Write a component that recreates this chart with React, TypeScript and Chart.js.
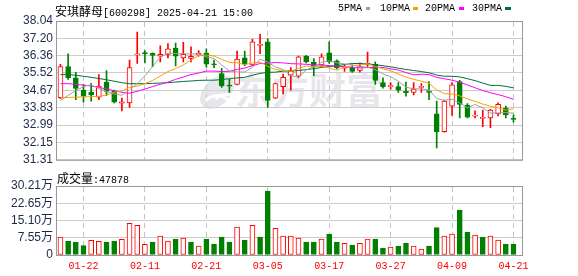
import React, { useEffect, useRef } from 'react';
import { Chart, registerables } from 'chart.js';

Chart.register(...registerables);

const dates = ['01-17','01-20','01-21','01-22','01-23','01-24','01-27','02-05','02-06','02-07','02-10','02-11','02-12','02-13','02-14','02-17','02-18','02-19','02-20','02-21','02-24','02-25','02-26','02-27','02-28','03-03','03-04','03-05','03-06','03-07','03-10','03-11','03-12','03-13','03-14','03-17','03-18','03-19','03-20','03-21','03-24','03-25','03-26','03-27','03-28','03-31','04-01','04-02','04-03','04-07','04-08','04-09','04-10','04-11','04-14','04-15','04-16','04-17','04-18','04-21'];

const xTickLabels = ['01-22','02-11','02-21','03-05','03-17','03-27','04-09','04-21'];

const openP = [34.32,35.83,35.28,34.69,34.58,34.35,35.08,34.66,34.06,34.07,36.40,36.48,36.47,36.34,36.42,36.73,36.25,36.23,36.40,36.48,35.95,35.49,34.91,34.97,36.26,35.91,36.86,37.03,34.30,34.85,35.41,35.36,36.33,36.03,35.91,36.50,36.11,35.75,35.75,35.64,35.94,35.94,35.05,34.86,34.86,34.63,34.58,34.82,34.66,33.54,32.68,33.91,35.10,33.96,33.43,33.32,33.34,33.54,33.80,33.30];
const closeP = [35.83,35.28,34.77,34.39,34.46,34.89,34.63,34.10,34.12,35.78,36.44,36.46,36.37,36.42,36.69,36.34,36.42,36.33,36.47,35.95,35.92,34.89,34.88,36.19,35.95,37.03,36.90,34.19,35.00,35.31,35.64,36.30,36.06,35.83,36.30,36.06,35.78,35.83,35.59,35.83,35.98,35.16,34.86,34.89,34.69,34.57,34.74,34.85,34.58,32.67,34.16,34.94,34.00,33.38,33.46,33.35,33.72,34.00,33.49,33.27];
const highP = [35.94,36.45,35.55,34.97,35.02,35.44,35.63,34.69,34.30,36.14,37.50,36.61,36.50,36.84,36.95,36.97,37.00,36.79,36.61,36.69,36.14,35.75,35.21,36.58,36.58,37.15,37.39,37.18,35.03,35.47,35.78,36.34,36.37,36.22,36.45,37.03,36.16,35.94,35.91,36.01,36.53,36.06,35.28,35.05,35.05,35.08,35.05,35.00,35.10,34.16,34.19,35.05,35.16,34.04,33.68,33.72,33.76,34.07,33.91,33.49];
const lowP = [34.27,35.21,34.22,34.11,34.15,34.22,34.43,34.07,33.68,33.85,35.98,36.01,35.83,36.06,36.25,35.86,36.06,36.06,36.34,35.80,35.78,34.82,34.58,34.94,35.88,35.88,36.45,33.85,34.27,34.50,34.69,35.28,36.01,35.39,35.83,35.98,35.72,35.59,35.55,35.56,35.78,34.97,34.78,34.74,34.58,34.40,34.46,34.58,34.22,31.89,32.65,33.46,33.34,33.34,33.34,32.92,32.87,33.44,33.34,33.13];

const ma5 = [34.19,34.43,34.66,34.86,34.95,34.76,34.63,34.50,34.44,34.70,35.01,35.38,35.83,36.29,36.48,36.46,36.45,36.44,36.45,36.30,36.22,35.91,35.62,35.57,35.57,35.79,36.19,36.05,35.81,35.69,35.41,35.29,35.66,35.83,36.03,36.11,36.01,35.96,35.91,35.82,35.80,35.68,35.48,35.34,35.12,34.83,34.75,34.75,34.69,34.28,34.20,34.24,34.07,33.83,33.99,33.83,33.58,33.58,33.60,33.57];
const ma10 = [34.32,34.33,34.35,34.36,34.37,34.39,34.45,34.58,34.64,34.82,34.89,35.00,35.16,35.37,35.59,35.73,35.91,36.14,36.37,36.39,36.34,36.18,36.03,36.01,35.93,36.00,36.05,35.84,35.69,35.63,35.60,35.74,35.86,35.82,35.86,35.76,35.65,35.81,35.87,35.92,35.96,35.84,35.72,35.63,35.47,35.32,35.21,35.12,35.02,34.70,34.52,34.50,34.41,34.26,34.14,34.01,33.91,33.83,33.72,33.78];
const ma20 = [35.00,35.00,34.97,34.93,34.89,34.82,34.74,34.66,34.58,34.54,34.63,34.74,34.86,34.97,35.08,35.21,35.33,35.44,35.52,35.61,35.61,35.59,35.60,35.69,35.76,35.87,35.98,35.99,36.03,36.01,35.97,35.96,35.94,35.91,35.90,35.88,35.85,35.82,35.78,35.77,35.78,35.79,35.79,35.72,35.66,35.54,35.43,35.46,35.44,35.31,35.24,35.17,35.07,34.94,34.80,34.67,34.56,34.47,34.37,34.24];
const ma30 = [35.44,35.44,35.41,35.36,35.31,35.25,35.19,35.12,35.05,35.00,35.00,35.00,35.02,35.03,35.05,35.08,35.11,35.13,35.16,35.17,35.17,35.20,35.24,35.28,35.31,35.41,35.50,35.55,35.56,35.61,35.61,35.64,35.68,35.73,35.79,35.83,35.87,35.93,35.98,35.98,35.96,35.92,35.87,35.82,35.75,35.69,35.64,35.59,35.53,35.42,35.36,35.36,35.33,35.24,35.15,35.03,34.92,34.92,34.87,34.80];

const volume = [78800,61300,56900,40700,64200,60000,56900,61300,68600,138700,130000,46700,56900,83200,61300,70000,74400,56900,39400,70000,48200,78800,56900,122600,65700,130000,78800,280200,116900,83200,83200,74400,56900,56900,70000,91900,56900,51100,43800,51100,70000,70000,30600,35000,39400,52500,39400,26300,39400,119700,83200,91900,197000,100700,87600,78800,83200,65700,48200,47878];

const priceTicks = [31.31,32.15,32.99,33.83,34.67,35.52,36.36,37.20,38.04];
const volTicks = [0,75525,151050,226575,302100];
const volTickLabels = ['0','7.55万','15.10万','22.65万','30.21万'];

const UP = '#ff0000';
const DOWN = '#008000';
const GRID = '#cccccc';
const VGRID = '#c4c4c4';
const FRAME = '#999999';
const TICK_TEXT = '#1c2a48';
const WM = 'rgba(214,214,222,0.6)';

const tickIdx = xTickLabels.map((d) => dates.indexOf(d));

const framePlugin = {
  id: 'frame',
  afterDraw(chart: any) {
    const { ctx, chartArea: a } = chart;
    ctx.save();
    ctx.strokeStyle = FRAME;
    ctx.lineWidth = 1;
    ctx.setLineDash([]);
    ctx.strokeRect(a.left + 0.5, a.top + 0.5, a.right - a.left - 1, a.bottom - a.top);
    ctx.restore();
  },
};

const vGridPlugin = {
  id: 'vgrid',
  beforeDatasetsDraw(chart: any) {
    const { ctx, chartArea: a, scales } = chart;
    const xs = scales.x;
    ctx.save();
    ctx.strokeStyle = VGRID;
    ctx.lineWidth = 1;
    ctx.setLineDash([5, 4]);
    tickIdx.forEach((v) => {
      const px = Math.floor(xs.getPixelForValue(v)) + 0.5;
      ctx.beginPath();
      ctx.moveTo(px, a.top + 1);
      ctx.lineTo(px, a.bottom);
      ctx.stroke();
    });
    ctx.restore();
  },
};

const watermarkPlugin = {
  id: 'watermark',
  beforeDatasetsDraw(chart: any) {
    const { ctx } = chart;
    ctx.save();
    // logo emblem
    ctx.translate(217, 92);
    ctx.rotate(-Math.PI / 4);
    ctx.fillStyle = WM;
    ctx.beginPath();
    ctx.ellipse(0, 0, 20, 13, 0, 0, Math.PI * 2);
    ctx.fill();
    ctx.strokeStyle = '#ffffff';
    ctx.lineWidth = 3;
    ctx.beginPath();
    ctx.arc(-14, 14, 16, -Math.PI / 2, 0);
    ctx.stroke();
    ctx.beginPath();
    ctx.arc(-6, 20, 16, -Math.PI / 2, 0);
    ctx.stroke();
    ctx.restore();

    ctx.save();
    ctx.fillStyle = WM;
    ctx.font = 'bold 37px "Noto Sans CJK SC"';
    ctx.textAlign = 'center';
    ctx.textBaseline = 'middle';
    ctx.fillText('东方财富', 309, 91);
    ctx.restore();
  },
};

function xAxis(showLabels: boolean) {
  return {
    type: 'linear',
    min: -0.58,
    max: 60.24,
    offset: false,
    afterBuildTicks: (s: any) => {
      s.ticks = tickIdx.map((v) => ({ value: v }));
    },
    grid: { display: false, drawTicks: false, offset: false },
    border: { display: false },
    ticks: {
      display: showLabels,
      autoSkip: false,
      maxRotation: 0,
      padding: 5,
      color: '#ff0000',
      font: { family: '"Liberation Mono", monospace', size: 10 },
      callback: (v: any) => dates[v] ?? '',
    },
    afterFit: (s: any) => {
      s.height = showLabels ? 21 : 0;
    },
  };
}

export default function App() {
  const priceRef = useRef<HTMLCanvasElement>(null);
  const volRef = useRef<HTMLCanvasElement>(null);

  useEffect(() => {
    const idx = dates.map((_, i) => i);
    const isUp = idx.map((i) => closeP[i] >= openP[i]);
    const candleColor = idx.map((i) => (isUp[i] ? UP : DOWN));

    const priceChart = new Chart(priceRef.current as HTMLCanvasElement, {
      type: 'bar',
      data: {
        datasets: [
          {
            type: 'line',
            data: idx.map((i) => ({ x: i, y: ma5[i] })),
            borderColor: '#a0a0a0',
            borderWidth: 1,
            pointRadius: 0,
            order: 0,
          },
          {
            type: 'line',
            data: idx.map((i) => ({ x: i, y: ma10[i] })),
            borderColor: '#f5a200',
            borderWidth: 1,
            pointRadius: 0,
            order: 0,
          },
          {
            type: 'line',
            data: idx.map((i) => ({ x: i, y: ma20[i] })),
            borderColor: '#ff00ff',
            borderWidth: 1,
            pointRadius: 0,
            order: 0,
          },
          {
            type: 'line',
            data: idx.map((i) => ({ x: i, y: ma30[i] })),
            borderColor: '#00703a',
            borderWidth: 1,
            pointRadius: 0,
            order: 0,
          },
          {
            type: 'bar',
            data: idx.map((i) => ({ x: i, y: [openP[i], closeP[i]] })),
            backgroundColor: idx.map((i) => (isUp[i] ? '#ffffff' : DOWN)),
            borderColor: candleColor,
            borderWidth: 1,
            borderSkipped: false,
            barThickness: 5,
            minBarLength: 1,
            grouped: false,
            order: 1,
          },
          {
            type: 'bar',
            data: idx.map((i) => ({ x: i, y: [lowP[i], highP[i]] })),
            backgroundColor: candleColor,
            borderWidth: 0,
            barThickness: 1,
            grouped: false,
            order: 2,
          },
        ] as any,
      },
      options: {
        animation: false,
        responsive: false,
        events: [],
        layout: { padding: { left: 0, right: 55, top: 21, bottom: 5 } },
        plugins: { legend: { display: false }, tooltip: { enabled: false } },
        scales: {
          x: xAxis(false) as any,
          y: {
            min: 31.31,
            max: 38.04,
            afterBuildTicks: (s: any) => {
              s.ticks = priceTicks.map((v) => ({ value: v }));
            },
            grid: { color: GRID, lineWidth: 1, drawTicks: false },
            border: { display: false },
            ticks: {
              padding: 3,
              autoSkip: false,
              color: TICK_TEXT,
              font: { family: '"Liberation Sans", Arial', size: 12 },
              callback: (v: any) => Number(v).toFixed(2),
            },
            afterFit: (s: any) => {
              s.width = 56;
            },
          },
        },
      },
      plugins: [vGridPlugin, watermarkPlugin, framePlugin],
    });

    const volChart = new Chart(volRef.current as HTMLCanvasElement, {
      type: 'bar',
      data: {
        datasets: [
          {
            data: idx.map((i) => ({ x: i, y: volume[i] })),
            backgroundColor: idx.map((i) => (i === 0 || closeP[i] >= closeP[i - 1] ? '#ffffff' : DOWN)),
            borderColor: idx.map((i) => (i === 0 || closeP[i] >= closeP[i - 1] ? UP : DOWN)),
            borderWidth: 1,
            borderSkipped: false,
            barThickness: 5,
            grouped: false,
          },
        ] as any,
      },
      options: {
        animation: false,
        responsive: false,
        events: [],
        layout: { padding: { left: 0, right: 55, top: 16, bottom: 0 } },
        plugins: { legend: { display: false }, tooltip: { enabled: false } },
        scales: {
          x: xAxis(true) as any,
          y: {
            min: 0,
            max: 302100,
            afterBuildTicks: (s: any) => {
              s.ticks = volTicks.map((v) => ({ value: v }));
            },
            grid: { color: GRID, lineWidth: 1, drawTicks: false },
            border: { display: false },
            ticks: {
              padding: 3,
              autoSkip: false,
              color: TICK_TEXT,
              font: { family: '"Liberation Sans", "Noto Sans CJK SC"', size: 12 },
              callback: (_v: any, i: number) => volTickLabels[i],
            },
            afterFit: (s: any) => {
              s.width = 56;
            },
          },
        },
      },
      plugins: [vGridPlugin, framePlugin],
    });

    return () => {
      priceChart.destroy();
      volChart.destroy();
    };
  }, []);

  const cjk = '"Noto Sans CJK SC", sans-serif';
  const mono = '"Liberation Mono", monospace';
  const legend = [
    { t: '5PMA', x: 338, sx: 366, sw: 4, c: '#a0a0a0' },
    { t: '10PMA', x: 380, sx: 413, sw: 5, c: '#f5a200' },
    { t: '20PMA', x: 425, sx: 459, sw: 5, c: '#ff00ff' },
    { t: '30PMA', x: 472, sx: 505, sw: 6, c: '#00703a' },
  ];

  return (
    <div style={{ position: 'absolute', left: 0, top: 0, width: 578, height: 276, background: '#fff', overflow: 'hidden' }}>
      <canvas ref={priceRef} width={578} height={170} style={{ position: 'absolute', left: 0, top: 0, width: 578, height: 170 }} />
      <canvas ref={volRef} width={578} height={106} style={{ position: 'absolute', left: 0, top: 170, width: 578, height: 106 }} />
      <div style={{ position: 'absolute', left: 55, top: 3, lineHeight: '16px', whiteSpace: 'nowrap', color: '#000' }}>
        <span style={{ fontFamily: cjk, fontSize: 12 }}>安琪酵母</span>
        <span style={{ fontFamily: mono, fontSize: 10 }}>[600298] 2025-04-21 15:00</span>
      </div>
      {legend.map((l) => (
        <React.Fragment key={l.t}>
          <div style={{ position: 'absolute', left: l.x, top: 2, lineHeight: '14px', fontFamily: mono, fontSize: 10, color: '#000', whiteSpace: 'nowrap' }}>{l.t}</div>
          <div style={{ position: 'absolute', left: l.sx, top: 7, width: l.sw, height: 3, background: l.c }} />
        </React.Fragment>
      ))}
      <div style={{ position: 'absolute', left: 57, top: 170, lineHeight: '16px', whiteSpace: 'nowrap', color: '#000' }}>
        <span style={{ fontFamily: cjk, fontSize: 12 }}>成交量</span>
        <span style={{ fontFamily: mono, fontSize: 10 }}>:47878</span>
      </div>
    </div>
  );
}
